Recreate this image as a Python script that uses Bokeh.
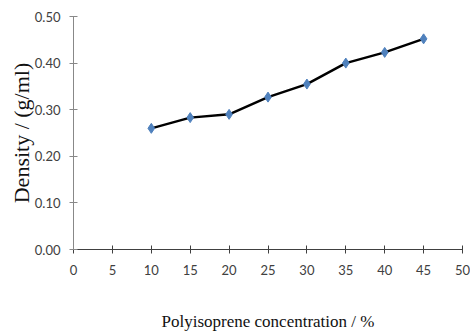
from bokeh.plotting import figure
from bokeh.models import Range1d, FixedTicker
from bokeh.embed import file_html
from bokeh.resources import INLINE

concentration = [10, 15, 20, 25, 30, 35, 40, 45]
density = [0.260, 0.283, 0.290, 0.327, 0.355, 0.400, 0.423, 0.452]
x_ticks = [0, 5, 10, 15, 20, 25, 30, 35, 40, 45, 50]
y_ticks = [0.0, 0.1, 0.2, 0.3, 0.4, 0.5]
y_labels = {0.0: "0.00", 0.1: "0.10", 0.2: "0.20", 0.3: "0.30", 0.4: "0.40", 0.5: "0.50"}

p = figure(width=470, height=333, output_backend="svg", toolbar_location=None,
           x_range=Range1d(0, 50), y_range=Range1d(0, 0.5),
           min_border_left=73, min_border_right=8, min_border_top=16, min_border_bottom=84)
p.outline_line_color = None
p.grid.visible = False

p.line(concentration, density, line_color="black", line_width=2.5)
p.scatter(concentration, density, marker="diamond", size=10, fill_color="#4F81BD",
          line_color="#4F81BD")

p.xaxis.ticker = FixedTicker(ticks=x_ticks)
p.yaxis.ticker = FixedTicker(ticks=y_ticks)
p.yaxis.major_label_overrides = y_labels
p.xaxis.minor_tick_line_color = None
p.yaxis.minor_tick_line_color = None
for ax in (p.xaxis, p.yaxis):
    ax.major_tick_in = 4
    ax.major_tick_out = 4
    ax.major_label_text_font = "Lato"
    ax.major_label_text_font_size = "13px"
    ax.major_label_text_color = "#404040"
    ax.axis_label_text_font = "Liberation Serif"
    ax.axis_label_text_font_style = "normal"
    ax.axis_label_text_color = "#111111"
p.xaxis.axis_label_text_font_size = "17px"
p.yaxis.axis_label_text_font_size = "22px"
p.yaxis.axis_line_color = "#888888"
p.yaxis.major_tick_line_color = "#888888"
p.xaxis.axis_line_color = "#404040"
p.xaxis.major_tick_line_color = "#404040"
p.xaxis.major_label_standoff = 11
p.yaxis.major_label_standoff = 9
p.xaxis.axis_label = "Polyisoprene concentration / %"
p.yaxis.axis_label = "Density / (g/ml)"
p.xaxis.axis_label_standoff = 34
p.yaxis.axis_label_standoff = -2

open("out.html", "w").write(file_html(p, INLINE))
